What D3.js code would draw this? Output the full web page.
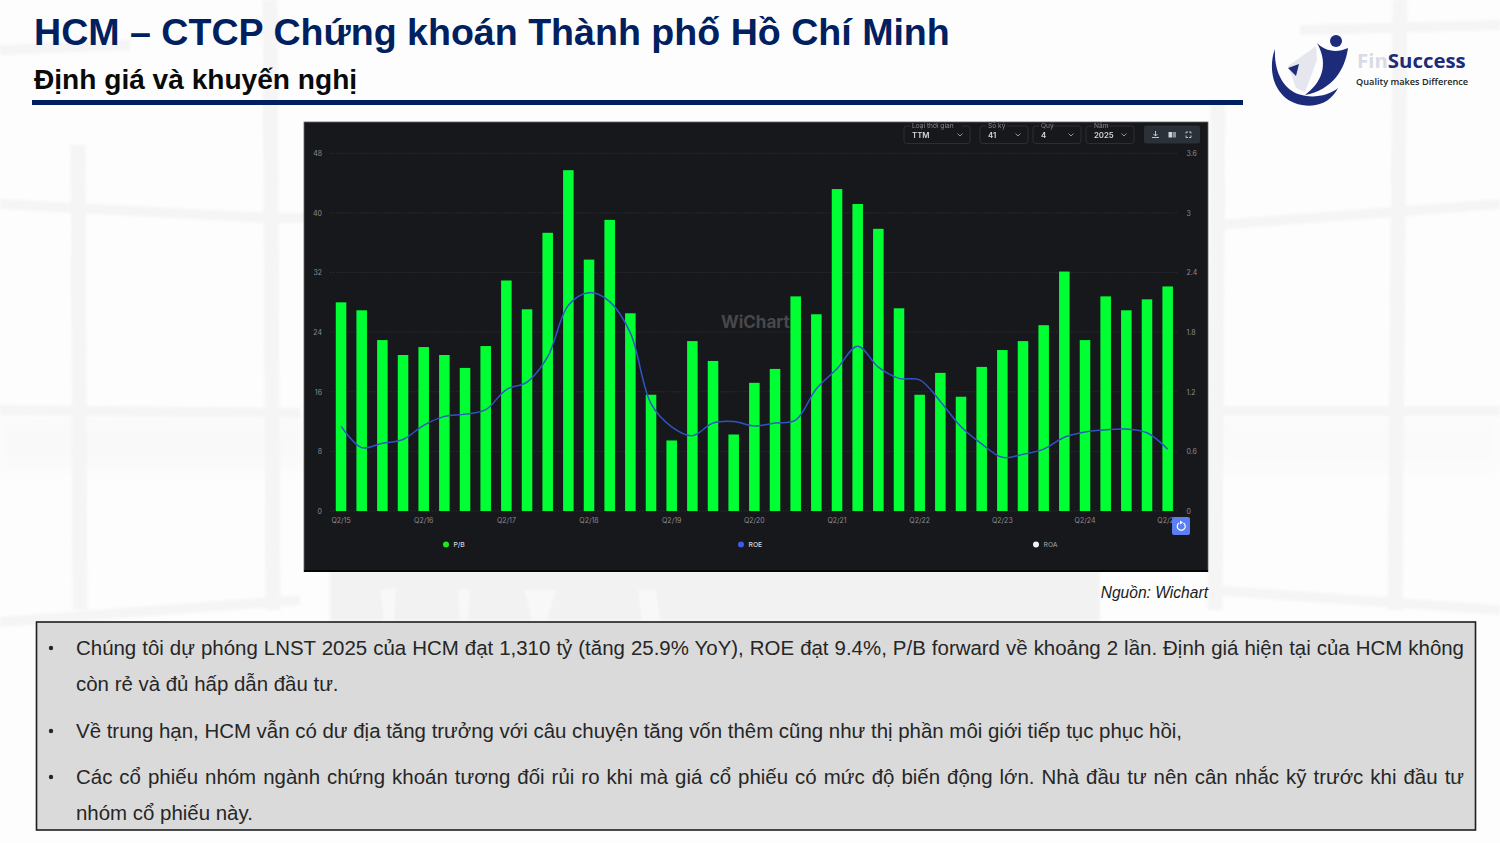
<!DOCTYPE html>
<html>
<head>
<meta charset="utf-8">
<script src="https://cdn.jsdelivr.net/npm/d3@7"></script>
<style>
    html, body { margin: 0; padding: 0; background: #fdfdfd; overflow: hidden; }
    #slide { position: relative; width: 1500px; height: 843px; font-family: "Liberation Sans", Arial, sans-serif; }
    #slide svg { position: absolute; left: 0; top: 0; }
    .line { position: absolute; font-size: 20.45px; color: #262626; line-height: 24px; white-space: nowrap; }
    .justified { text-align: justify; text-align-last: justify; }
</style>
</head>
<body>
<div id="slide"></div>
<script>
//data
const quarters = [
    "Q2/15", "Q3/15", "Q4/15", "Q1/16", "Q2/16", "Q3/16", "Q4/16", "Q1/17", "Q2/17", "Q3/17", "Q4/17",
    "Q1/18", "Q2/18", "Q3/18", "Q4/18", "Q1/19", "Q2/19", "Q3/19", "Q4/19", "Q1/20", "Q2/20", "Q3/20",
    "Q4/20", "Q1/21", "Q2/21", "Q3/21", "Q4/21", "Q1/22", "Q2/22", "Q3/22", "Q4/22", "Q1/23", "Q2/23",
    "Q3/23", "Q4/23", "Q1/24", "Q2/24", "Q3/24", "Q4/24", "Q1/25", "Q2/25"
];
const pbValues = [
    2.10, 2.02, 1.72, 1.57, 1.65, 1.57, 1.44, 1.66, 2.32, 2.03, 2.80,
    3.43, 2.53, 2.93, 1.99, 1.17, 0.71, 1.71, 1.51, 0.77, 1.29, 1.43,
    2.16, 1.98, 3.24, 3.09, 2.84, 2.04, 1.17, 1.39, 1.15, 1.45, 1.62,
    1.71, 1.87, 2.41, 1.72, 2.16, 2.02, 2.13, 2.26
];
const roeValues = [
    11.4, 8.5, 9.1, 9.6, 11.5, 12.7, 13.0, 13.6, 16.3, 17.3, 20.7,
    27.6, 29.3, 28.1, 23.9, 14.4, 11.3, 10.1, 11.8, 12.0, 11.4, 11.8,
    12.2, 16.4, 19.1, 22.1, 19.3, 17.8, 17.6, 14.7, 11.3, 9.0, 7.2,
    7.6, 8.3, 9.9, 10.6, 10.9, 11.0, 10.5, 8.3
];
const xTicks = ["Q2/15", "Q2/16", "Q2/17", "Q2/18", "Q2/19", "Q2/20", "Q2/21", "Q2/22", "Q2/23", "Q2/24", "Q2/25"];
const leftTicks = [0, 8, 16, 24, 32, 40, 48];
const rightTicks = [0, 0.6, 1.2, 1.8, 2.4, 3, 3.6];
const legendItems = ["P/B", "ROE", "ROA"];
const legendColors = ["#1fe81f", "#3a5ce8", "#f2f2f2"];
const dropdownLabels = ["Loại thời gian", "Số kỳ", "Quý", "Năm"];
const dropdownValues = ["TTM", "41", "4", "2025"];
const textLines = [
    "Chúng tôi dự phóng LNST 2025 của HCM đạt 1,310 tỷ (tăng 25.9% YoY), ROE đạt 9.4%, P/B forward về khoảng 2 lần. Định giá hiện tại của HCM không",
    "còn rẻ và đủ hấp dẫn đầu tư.",
    "Về trung hạn, HCM vẫn có dư địa tăng trưởng với câu chuyện tăng vốn thêm cũng như thị phần môi giới tiếp tục phục hồi,",
    "Các cổ phiếu nhóm ngành chứng khoán tương đối rủi ro khi mà giá cổ phiếu có mức độ biến động lớn. Nhà đầu tư nên cân nhắc kỹ trước khi đầu tư",
    "nhóm cổ phiếu này."
];

const slide = d3.select("#slide");
const svg = slide.append("svg").attr("width", 1500).attr("height", 843);

//background window pattern
svg.append("rect").attr("x", 0).attr("y", 418).attr("width", 304).attr("height", 50).attr("fill", "#f9f9f9").style("filter", "blur(6px)");
svg.append("rect").attr("x", 1208).attr("y", 418).attr("width", 292).attr("height", 50).attr("fill", "#fafafa").style("filter", "blur(6px)");
const bg = svg.append("g").attr("fill", "none").attr("stroke", "#f5f5f5").style("filter", "blur(1px)");
[
    "M78 145L80 610", "M270 0L273 610", "M1218 100L1215 610", "M1400 0L1395 610"
].forEach(d => bg.append("path").attr("d", d).attr("stroke-width", 15));
[
    "M0 50L130 45", "M0 204L270 218L1200 225", "M1218 225L1500 204", "M0 410L300 413", "M1210 411L1500 411",
    "M0 622L300 600", "M1208 590L1500 610", "M1300 30L1500 25"
].forEach(d => bg.append("path").attr("d", d).attr("stroke-width", 10));

//grey strip under the chart, with the lighter gaps of the photo
svg.append("rect").attr("x", 330).attr("y", 571).attr("width", 770).attr("height", 50).attr("fill", "#f2f2f2").style("filter", "blur(1.5px)");
const gaps = svg.append("g").attr("fill", "#f8f8f8").style("filter", "blur(1px)");
[
    "M380 590L396 588L394 622L384 622Z", "M458 590L470 590L468 622L460 622Z",
    "M525 590L556 590L546 622L532 622Z", "M638 590L656 590L660 622L642 622Z"
].forEach(d => gaps.append("path").attr("d", d));

//header
svg.append("text").attr("x", 34).attr("y", 45).attr("font-size", 37.6).attr("font-weight", "bold").attr("fill", "#002060")
    .text("HCM – CTCP Chứng khoán Thành phố Hồ Chí Minh");
svg.append("text").attr("x", 34).attr("y", 89).attr("font-size", 28.1).attr("font-weight", "bold").attr("fill", "#0a0a0a")
    .text("Định giá và khuyến nghị");
svg.append("rect").attr("x", 32).attr("y", 100).attr("width", 1211).attr("height", 5).attr("fill", "#002060");

//logo
const logo = svg.append("g");
logo.append("path").attr("fill", "#e6e6ee").attr("d", "M1288 66L1312 49L1316 46L1317 60L1305 92L1296 88Z");
logo.append("path").attr("fill", "#1c2b7a").attr("d", "M1275 49C1267 70 1274 100 1302 105C1320 108 1332 100 1338 88C1328 96 1312 99 1298 94C1283 88 1274 72 1275 49Z");
logo.append("path").attr("fill", "#1c2b7a").attr("d", "M1317 43C1324 50 1335 54 1348 48C1345 70 1332 90 1305 95C1320 84 1330 66 1317 43Z");
logo.append("path").attr("fill", "#1c2b7a").attr("d", "M1288 68L1299 64L1296 76Z");
logo.append("circle").attr("cx", 1336).attr("cy", 41).attr("r", 6).attr("fill", "#1c2b7a");
const logoText = logo.append("text").attr("x", 1357).attr("y", 68).attr("font-family", "Open Sans").attr("font-size", 20.4).attr("font-weight", "bold");
logoText.append("tspan").attr("fill", "#d9dbe6").text("Fin");
logoText.append("tspan").attr("fill", "#1c2b7a").text("Success");
logo.append("text").attr("x", 1356).attr("y", 85).attr("font-family", "Open Sans").attr("font-size", 9.2).attr("font-weight", "600").attr("fill", "#222")
    .text("Quality makes Difference");

//chart panel
const chart = svg.append("g").style("filter", "blur(0.45px)").attr("font-family", "Inter");
chart.append("rect").attr("x", 304).attr("y", 122).attr("width", 904).attr("height", 449.5)
    .attr("fill", "#17181c").attr("stroke", "#666").attr("stroke-width", 0.8);
chart.append("rect").attr("x", 304).attr("y", 570).attr("width", 904).attr("height", 2).attr("fill", "#050505");

const xScale = d3.scaleBand().domain(quarters).range([330.7, 1178]).paddingInner(0.49).paddingOuter(0.245);
const leftScale = d3.scaleLinear().domain([0, 48]).range([511, 153.3]);
const rightScale = d3.scaleLinear().domain([0, 3.6]).range([511, 153.3]);

//grid
chart.append("g").selectAll("line").data(leftTicks).enter().append("line")
    .attr("x1", 330).attr("x2", 1177)
    .attr("y1", d => leftScale(d)).attr("y2", d => leftScale(d))
    .attr("stroke", "#303136").attr("stroke-width", 0.8).attr("stroke-dasharray", "1.5 1.5");

//axes
const styleAxis = g => {
    g.select(".domain").remove();
    g.selectAll(".tick line").remove();
    g.selectAll("text").attr("fill", "#8b8d92").attr("font-size", 7).attr("font-family", "Inter");
};
chart.append("g").attr("transform", "translate(322,0)")
    .call(d3.axisLeft(leftScale).tickValues(leftTicks).tickSize(0).tickPadding(0)).call(styleAxis);
chart.append("g").attr("transform", "translate(1186.5,0)")
    .call(d3.axisRight(rightScale).tickValues(rightTicks).tickSize(0).tickPadding(0).tickFormat(d => d)).call(styleAxis);
chart.append("g").attr("transform", "translate(0,518)")
    .call(d3.axisBottom(xScale).tickValues(xTicks).tickSize(0).tickPadding(0)).call(styleAxis);

//watermark
chart.append("text").attr("x", 721).attr("y", 328).attr("font-size", 17).attr("font-weight", "bold").attr("fill", "#47484c").text("WiChart");

//bars
chart.append("g").selectAll("rect").data(pbValues).enter().append("rect")
    .attr("x", (d, i) => xScale(quarters[i]))
    .attr("y", d => rightScale(d))
    .attr("width", xScale.bandwidth())
    .attr("height", d => rightScale(0) - rightScale(d))
    .attr("fill", "#00ff33");

//ROE line
const roeLine = d3.line()
    .x((d, i) => xScale(quarters[i]) + xScale.bandwidth() / 2)
    .y(d => leftScale(d))
    .curve(d3.curveCatmullRom.alpha(0.5));
chart.append("path").datum(roeValues).attr("d", roeLine)
    .attr("fill", "none").attr("stroke", "#2f55c4").attr("stroke-width", 1.5);

//legend
const legendX = d3.scalePoint().domain(legendItems).range([446, 1036]);
const legend = chart.append("g").selectAll("g").data(legendItems).enter().append("g")
    .attr("transform", d => `translate(${legendX(d)},544.5)`);
legend.append("circle").attr("r", 3).attr("fill", (d, i) => legendColors[i]);
legend.append("text").attr("x", 7.5).attr("y", 2.4).attr("font-size", 6.8).attr("font-weight", 500)
    .attr("fill", (d, i) => i == 2 ? "#8d8e93" : "#d4d4d6").text(d => d);

//toolbar
const dropX = [904, 980, 1033, 1086];
const dropW = [66, 48, 48, 48];
dropdownLabels.forEach((label, i) => {
    const g = chart.append("g");
    g.append("rect").attr("x", dropX[i]).attr("y", 126).attr("width", dropW[i]).attr("height", 17.5).attr("rx", 2.5)
        .attr("fill", "none").attr("stroke", "#33353a").attr("stroke-width", 0.8);
    g.append("rect").attr("x", dropX[i] + 6).attr("y", 123).attr("width", label.length * 3.5 + 3).attr("height", 6).attr("fill", "#17181c");
    g.append("text").attr("x", dropX[i] + 8).attr("y", 128).attr("font-size", 6.6).attr("fill", "#8a8c92").text(label);
    g.append("text").attr("x", dropX[i] + 8).attr("y", 137.5).attr("font-size", 7.8).attr("font-weight", 600).attr("fill", "#d8d8da").text(dropdownValues[i]);
    const cx = dropX[i] + dropW[i] - 10;
    g.append("path").attr("d", `M${cx - 2.5} 133.5L${cx} 136L${cx + 2.5} 133.5`).attr("fill", "none").attr("stroke", "#a0a2a8").attr("stroke-width", 0.9);
});
chart.append("rect").attr("x", 1144).attr("y", 125.5).attr("width", 56).attr("height", 18).attr("rx", 2).attr("fill", "#2b3138");
chart.append("path").attr("d", "M1152 137.5H1159M1155.5 131V136M1153.5 134L1155.5 136L1157.5 134").attr("fill", "none").attr("stroke", "#cfd2d6").attr("stroke-width", 0.9);
chart.append("rect").attr("x", 1168.5).attr("y", 132).attr("width", 3.5).attr("height", 5.5).attr("fill", "#cfd2d6");
chart.append("rect").attr("x", 1172.5).attr("y", 132).attr("width", 3.5).attr("height", 5.5).attr("fill", "#8e9298");
chart.append("path").attr("d", "M1186 133.5V132H1188M1189 132H1191V133.5M1191 135.5V137.5H1189M1188 137.5H1186V135.5").attr("fill", "none").attr("stroke", "#cfd2d6").attr("stroke-width", 0.9);

//reset button
chart.append("rect").attr("x", 1172).attr("y", 517).attr("width", 18).attr("height", 18).attr("rx", 2).attr("fill", "#5b7ff2");
chart.append("path").attr("d", "M1179 523A4 4 0 1 0 1183.5 523").attr("fill", "none").attr("stroke", "#fff").attr("stroke-width", 1.2);
chart.append("path").attr("d", "M1180 520.5L1180 524.5L1183 522.5Z").attr("fill", "#fff");

//source
svg.append("text").attr("x", 1208).attr("y", 598).attr("text-anchor", "end").attr("font-size", 15.6).attr("font-style", "italic").attr("fill", "#1a1a1a")
    .text("Nguồn: Wichart");

//commentary box
svg.append("rect").attr("x", 36.5).attr("y", 622).attr("width", 1439).attr("height", 208)
    .attr("fill", "#dadada").attr("stroke", "#1d1d1d").attr("stroke-width", 1.6);

const bulletY = [648, 731, 777];
svg.append("g").selectAll("circle").data(bulletY).enter().append("circle")
    .attr("cx", 51).attr("cy", d => d).attr("r", 2.2).attr("fill", "#262626");

const lineTop = [636, 672, 719, 765, 801];
textLines.forEach((line, i) => {
    const justified = i == 0 || i == 3;
    slide.append("div")
        .attr("class", justified ? "line justified" : "line")
        .style("left", "76px")
        .style("top", lineTop[i] + "px")
        .style("width", justified ? "1388px" : null)
        .text(line);
});
</script>
</body>
</html>
